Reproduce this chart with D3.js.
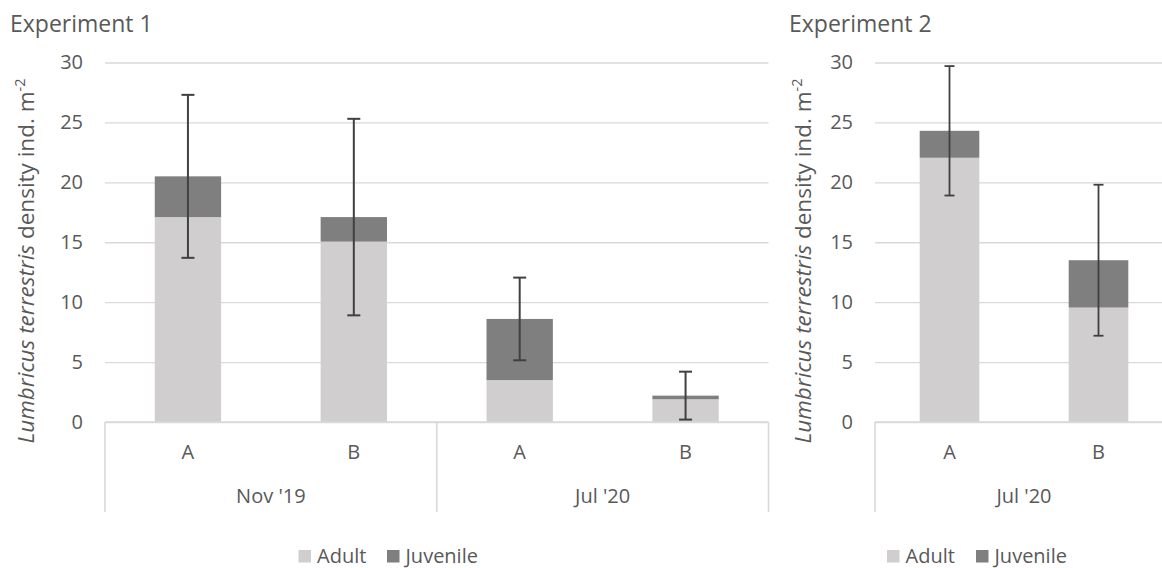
<!DOCTYPE html>
<html>
<head>
<meta charset="utf-8">
<script src="https://cdn.jsdelivr.net/npm/d3@7"></script>
<style>
  html, body { margin: 0; padding: 0; background: #ffffff; }
  svg { display: block; font-family: "Open Sans", "Noto Sans", sans-serif; }
</style>
</head>
<body>
<svg id="chart" width="1162" height="568"></svg>
<script>
// Experiment 1: two sampling dates, two treatments each
const exp1Groups = ["Nov '19", "Nov '19", "Jul '20", "Jul '20"];
const exp1Treatments = ["A", "B", "A", "B"];
const exp1Adult = [17.1, 15.05, 3.5, 1.9];
const exp1Juvenile = [3.4, 2.05, 5.1, 0.3];
const exp1Error = [6.8, 8.2, 3.45, 2.0];

// Experiment 2: one sampling date
const exp2Groups = ["Jul '20", "Jul '20"];
const exp2Treatments = ["A", "B"];
const exp2Adult = [22.05, 9.55];
const exp2Juvenile = [2.25, 3.95];
const exp2Error = [5.4, 6.3];

const yTicks = [0, 5, 10, 15, 20, 25, 30];
const seriesNames = ["Adult", "Juvenile"];
const seriesColors = ["#d0cece", "#7f7f7f"];

const svg = d3.select("#chart");
const textColor = "#595959";
const gridColor = "#d9d9d9";
const fontSize = 20;

function drawPanel(opt) {
  const g = svg.append("g");
  const n = opt.adult.length;
  const keys = d3.range(n);
  const y = d3.scaleLinear().domain([0, 30]).range([422, 62.5]);
  const x = d3.scaleBand().domain(keys).range([opt.x0, opt.x1])
    .paddingInner(0.6).paddingOuter(0.3);

  // horizontal gridlines and value labels
  const yAxis = d3.axisLeft(y).tickValues(yTicks).tickSize(-(opt.x1 - opt.x0)).tickPadding(22);
  const ga = g.append("g").attr("transform", `translate(${opt.x0},0)`).call(yAxis);
  ga.select(".domain").remove();
  ga.selectAll(".tick line").attr("stroke", gridColor).attr("stroke-width", 1.4);
  ga.selectAll(".tick text").attr("fill", textColor).attr("font-size", fontSize)
    .attr("font-family", "'Open Sans', sans-serif");

  // stacked bars
  const rows = keys.map(i => ({ i, Adult: opt.adult[i], Juvenile: opt.juvenile[i] }));
  const stack = d3.stack().keys(seriesNames)(rows);
  g.selectAll("g.series").data(stack).join("g")
    .attr("fill", (d, k) => seriesColors[k])
    .selectAll("rect").data(d => d).join("rect")
    .attr("x", d => x(d.data.i))
    .attr("width", x.bandwidth())
    .attr("y", d => y(d[1]))
    .attr("height", d => y(d[0]) - y(d[1]));

  // error bars around the total
  const eg = g.append("g").attr("stroke", "#404040").attr("stroke-width", opt.errW);
  keys.forEach(i => {
    const total = opt.adult[i] + opt.juvenile[i];
    const cx = x(i) + x.bandwidth() / 2;
    const top = y(total + opt.error[i]);
    const bot = y(total - opt.error[i]);
    eg.append("line").attr("x1", cx).attr("x2", cx).attr("y1", top).attr("y2", bot);
    eg.append("line").attr("x1", cx - opt.cap / 2).attr("x2", cx + opt.cap / 2).attr("y1", top).attr("y2", top);
    eg.append("line").attr("x1", cx - opt.cap / 2).attr("x2", cx + opt.cap / 2).attr("y1", bot).attr("y2", bot);
  });

  // category axis: baseline, treatment labels, group labels and dividers
  const y0 = y(0);
  const axisBottom = 512;
  g.append("line").attr("x1", opt.x0).attr("x2", opt.x1).attr("y1", y0).attr("y2", y0)
    .attr("stroke", gridColor).attr("stroke-width", 1.6);
  g.selectAll("text.treat").data(keys).join("text").attr("class", "treat")
    .attr("x", i => x(i) + x.bandwidth() / 2).attr("y", 459)
    .attr("text-anchor", "middle").attr("fill", textColor).attr("font-size", fontSize)
    .text(i => opt.treatments[i]);

  const groups = [];
  keys.forEach(i => {
    const last = groups[groups.length - 1];
    if (last && last.name === opt.groups[i]) last.end = i;
    else groups.push({ name: opt.groups[i], start: i, end: i });
  });
  const step = x.step();
  const edges = [];
  groups.forEach(gr => {
    const l = gr.start === 0 ? opt.x0 : x(gr.start) - (step - x.bandwidth()) / 2;
    const r = gr.end === n - 1 ? opt.x1 : x(gr.end) + x.bandwidth() + (step - x.bandwidth()) / 2;
    edges.push(l, r);
    g.append("text").attr("x", (l + r) / 2).attr("y", 503).attr("text-anchor", "middle")
      .attr("fill", textColor).attr("font-size", fontSize).text(gr.name);
  });
  Array.from(new Set(edges)).forEach(ex => {
    g.append("line").attr("x1", ex).attr("x2", ex).attr("y1", y0).attr("y2", axisBottom)
      .attr("stroke", gridColor).attr("stroke-width", 1.6);
  });

  // axis title
  const title = g.append("text")
    .attr("transform", `translate(${opt.titleX},${opt.titleY}) rotate(-90)`)
    .attr("text-anchor", "middle").attr("fill", textColor).attr("font-size", 22.5);
  title.append("tspan").attr("font-style", "italic").text("Lumbricus terrestris");
  title.append("tspan").text(" density ind. m");
  title.append("tspan").attr("font-size", 14.5).attr("dy", -9).text("-2");

  // panel heading
  g.append("text").attr("x", opt.headX).attr("y", 32).attr("fill", textColor)
    .attr("font-size", 23).text(opt.heading);

  // legend
  const lg = g.append("g").attr("transform", `translate(${opt.legX},0)`);
  const items = [{ name: "Adult", off: 0 }, { name: "Juvenile", off: opt.legGap }];
  items.forEach((it, k) => {
    lg.append("rect").attr("x", it.off).attr("y", 550).attr("width", 12.5).attr("height", 12.5)
      .attr("fill", seriesColors[k]);
    lg.append("text").attr("x", it.off + 18.5).attr("y", 563).attr("fill", textColor)
      .attr("font-size", fontSize).text(it.name);
  });
}

drawPanel({
  groups: exp1Groups, treatments: exp1Treatments,
  adult: exp1Adult, juvenile: exp1Juvenile, error: exp1Error,
  x0: 105, x1: 768.5, cap: 13, errW: 2,
  titleX: 33.5, titleY: 261, headX: 10, heading: "Experiment 1",
  legX: 298.5, legGap: 88.5
});

drawPanel({
  groups: exp2Groups, treatments: exp2Treatments,
  adult: exp2Adult, juvenile: exp2Juvenile, error: exp2Error,
  x0: 875, x1: 1173, cap: 10, errW: 1.8,
  titleX: 811, titleY: 261, headX: 789, heading: "Experiment 2",
  legX: 887, legGap: 89
});
</script>
</body>
</html>
